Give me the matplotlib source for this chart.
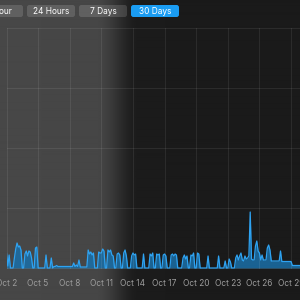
import numpy as np
import pandas as pd
import matplotlib
matplotlib.use('Agg')
import matplotlib.pyplot as plt
from matplotlib.patches import FancyBboxPatch

# usage, sampled every 3 hours (8 values per day), Oct 2 .. Oct 29
week1 = [
    15, 2, 13, 0, 0, 0, 10, 19,          # Oct 2
    25, 21, 22, 18, 0, 0, 14, 17,        # Oct 3
    12, 17, 16, 10, 0, 0, 20, 21,        # Oct 4
    0, 0, 0, 0, 0, 0, 13, 0,             # Oct 5
    0, 0, 10, 0, 1.5, 1.5, 2.5, 1.5,     # Oct 6
    1.5, 1.5, 1.5, 1.5, 1.5, 1.5, 1.5, 1.5,  # Oct 7
    1.5, 1.5, 1.5, 5, 1.5, 3, 1.5, 8,    # Oct 8
]
week2 = [
    1, 1, 1, 1, 1, 1, 18, 14,            # Oct 9
    16, 13, 15, 0, 0, 0, 16, 15,         # Oct 10
    15, 19, 17, 0, 0, 18, 16, 18,        # Oct 11
    13, 12, 0, 0, 14, 15, 13, 0,         # Oct 12
    0, 15, 18, 12, 0, 0, 0, 12,          # Oct 13
    15, 13, 14, 0, 0, 0, 0, 0,           # Oct 14
    14, 0, 0, 0, 0, 14, 12, 15,          # Oct 15
]
week3 = [
    0, 0, 14, 13, 14, 0, 0, 13,          # Oct 16
    14, 12, 0, 0, 0, 13, 14, 12,         # Oct 17
    14, 13, 0, 0, 0, 0, 10, 13,          # Oct 18
    9, 12, 0, 0, 13, 12, 15, 0,          # Oct 19
    0, 15, 14, 0, 0, 0, 0, 0,            # Oct 20
    0, 12, 0, 0, 0, 0, 0, 0,             # Oct 21
    0, 12, 0, 0, 0, 0, 7, 0,             # Oct 22
]
week4 = [
    0, 9, 6, 0, 0, 0, 10, 13,            # Oct 23
    8, 12, 15, 8, 7, 12, 9, 10,          # Oct 24
    12, 56, 9, 8, 8, 22, 27, 17,         # Oct 25
    15, 8, 13, 8, 8, 8, 20, 23,          # Oct 26
    18, 7, 7, 7, 7, 7, 7, 7,             # Oct 27
    17, 6.5, 6.5, 6.5, 6.5, 6.5, 6.5, 6.5,  # Oct 28
    6.5, 2.5, 2.5, 2.5, 2.5, 2.5, 2.5, 2.5,  # Oct 29
]
tick_dates = pd.date_range('2023-10-02', '2023-10-29', freq='3D')
tick_labels = ['Oct 2', 'Oct 5', 'Oct 8', 'Oct 11', 'Oct 14',
               'Oct 17', 'Oct 20', 'Oct 23', 'Oct 26', 'Oct 29']
buttons = ['1 Hour', '24 Hours', '7 Days', '30 Days']

values = np.array(week1 + week2 + week3 + week4, dtype=float)
times = pd.date_range('2023-10-02', periods=len(values), freq='3h')

plt.rcParams['font.family'] = ['Inter', 'DejaVu Sans']

fig = plt.figure(figsize=(3, 3), dpi=100)

# background with the light-to-dark shading of the screenshot
bg = fig.add_axes([0, 0, 1, 1], zorder=0)
px = np.arange(300)
t = np.clip((px - 95) / 45, 0, 1)
shade = 71 - (71 - 28) * (0.5 - 0.5 * np.cos(np.pi * t)) - 2 * (px / 300)
bg.imshow(np.tile(shade / 255, (2, 1)), cmap='gray', vmin=0, vmax=1,
          aspect='auto', extent=[0, 1, 0, 1], interpolation='bilinear')
bg.set_xlim(0, 1)
bg.set_ylim(0, 1)
bg.axis('off')

ax = fig.add_axes([6.5 / 300, 31 / 300, 293.5 / 300, 241 / 300], zorder=1)
ax.patch.set_alpha(0)
ax.fill_between(times, values, 0, color='#1a6fa8', alpha=0.85, lw=0)
ax.plot(times, values, color='#2ea3f2', lw=0.9)

ax.set_xlim(times[0], times[0] + pd.Timedelta(days=27.85))
ax.set_ylim(-1, 240)
ax.set_yticks([0, 60, 120, 180, 240])
ax.set_xticks(tick_dates)
ax.set_xticklabels(tick_labels)
ax.tick_params(axis='x', length=0, pad=7, labelsize=6, colors='#9c9c9c')
ax.tick_params(axis='y', length=0, labelleft=False)
ax.grid(True, color='white', alpha=0.08, lw=0.8)
for s in ax.spines.values():
    s.set_visible(False)

# range selector buttons
bx = [-25, 27, 79, 131]
for i, (x0, label) in enumerate(zip(bx, buttons)):
    active = label == '30 Days'
    box = FancyBboxPatch((x0 / 300, 1 - 17 / 300), 48 / 300, 12 / 300,
                         boxstyle='round,pad=0,rounding_size=0.008',
                         transform=fig.transFigure,
                         facecolor='#1a9cf2' if active else 'white',
                         alpha=1 if active else 0.14, lw=0, zorder=3)
    fig.patches.append(box)
    fig.text((x0 + 24) / 300, 1 - 11 / 300, label, ha='center', va='center',
             fontsize=6, color='white', zorder=4)

fig.savefig('out.png', dpi=100)
